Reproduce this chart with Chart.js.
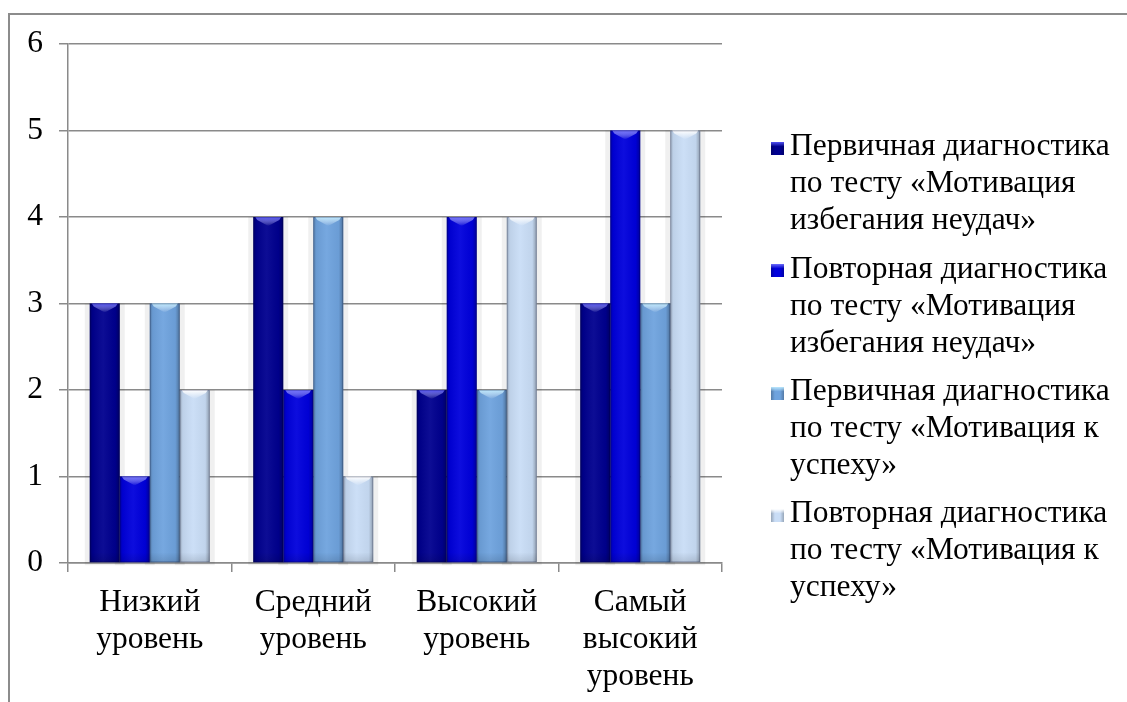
<!DOCTYPE html>
<html>
<head>
<meta charset="utf-8">
<script src="https://cdn.jsdelivr.net/npm/chart.js@4.4.0/dist/chart.umd.min.js"></script>
<style>
  html, body { margin: 0; padding: 0; background: #fff; overflow: hidden; }
  #wrap { position: relative; width: 1127px; height: 702px; }
  #frame { position: absolute; left: 8px; top: 13px; width: 1200px; height: 800px;
           border-left: 2px solid #8c8c8c; border-top: 2px solid #8c8c8c; box-sizing: border-box; }
  canvas { position: absolute; left: 0; top: 0; }
  #legend { position: absolute; left: 758px; top: 126.3px; font-family: "Liberation Serif", "Times New Roman", serif;
            font-size: 31.5px; line-height: 37px; color: #000; }
  .item { position: relative; padding-left: 32px; margin-bottom: 11.3px; white-space: nowrap; }
  .mark { position: absolute; left: 13px; top: 15.7px; width: 13px; height: 13px; box-sizing: border-box; }
</style>
</head>
<body>
<div id="wrap">
  <div id="frame"></div>
  <canvas id="c" width="1127" height="702"></canvas>
  <div id="legend"></div>
</div>
<script>
const categories = [
  ['Низкий', 'уровень'],
  ['Средний', 'уровень'],
  ['Высокий', 'уровень'],
  ['Самый', 'высокий', 'уровень']
];
const seriesNames = [
  ['Первичная диагностика', 'по тесту «Мотивация', 'избегания неудач»'],
  ['Повторная диагностика', 'по тесту «Мотивация', 'избегания неудач»'],
  ['Первичная диагностика', 'по тесту «Мотивация к', 'успеху»'],
  ['Повторная диагностика', 'по тесту «Мотивация к', 'успеху»']
];
const primaryFailure = [3, 4, 2, 3];
const repeatFailure  = [1, 2, 4, 5];
const primarySuccess = [3, 4, 2, 3];
const repeatSuccess  = [2, 1, 4, 5];
const yTicks = [0, 1, 2, 3, 4, 5, 6];

const colors = ['#00008f', '#0000dc', '#6fa3de', '#c9ddf6'];
const topGlow = ['rgba(90,90,255,0.9)', 'rgba(120,120,255,0.9)', 'rgba(190,235,255,0.95)', 'rgba(255,255,255,1)'];
const values = [primaryFailure, repeatFailure, primarySuccess, repeatSuccess];
const FONT = '"Liberation Serif", "Times New Roman", serif';

const shading = {
  id: 'shading',
  beforeDatasetsDraw(chart) {
    const ctx = chart.ctx;
    ctx.save();
    chart.data.datasets.forEach((ds, i) => {
      chart.getDatasetMeta(i).data.forEach(bar => {
        const w = bar.width;
        ctx.fillStyle = 'rgba(0,0,0,0.06)';
        ctx.fillRect(bar.x - w / 2 - 5, bar.y, w + 10, bar.base - bar.y + 3);
      });
    });
    ctx.restore();
  },
  afterDatasetsDraw(chart) {
    const ctx = chart.ctx;
    ctx.save();
    chart.data.datasets.forEach((ds, i) => {
      chart.getDatasetMeta(i).data.forEach(bar => {
        const w = bar.width, l = bar.x - w / 2, t = bar.y, h = bar.base - bar.y;
        const g = ctx.createLinearGradient(l, 0, l + w, 0);
        g.addColorStop(0, 'rgba(0,0,0,0.25)');
        g.addColorStop(0.1, 'rgba(0,0,0,0.06)');
        g.addColorStop(0.45, 'rgba(255,255,255,0.05)');
        g.addColorStop(0.85, 'rgba(0,0,0,0.04)');
        g.addColorStop(1, 'rgba(0,0,0,0.3)');
        ctx.fillStyle = g;
        ctx.fillRect(l, t, w, h);
        const gt = ctx.createLinearGradient(0, t, 0, t + 9);
        gt.addColorStop(0, topGlow[i]);
        gt.addColorStop(1, 'rgba(255,255,255,0)');
        ctx.beginPath();
        ctx.moveTo(l + 2, t);
        ctx.lineTo(l + w - 2, t);
        ctx.lineTo(l + w - 4, t + 3);
        ctx.lineTo(l + w / 2, t + 9);
        ctx.lineTo(l + 4, t + 3);
        ctx.closePath();
        ctx.fillStyle = gt;
        ctx.fill();
        const gb = ctx.createLinearGradient(0, bar.base - 10, 0, bar.base);
        gb.addColorStop(0, 'rgba(0,0,0,0)');
        gb.addColorStop(1, 'rgba(0,0,0,0.12)');
        ctx.fillStyle = gb;
        ctx.fillRect(l, bar.base - 10, w, 10);
        ctx.strokeStyle = 'rgba(0,0,40,0.22)';
        ctx.lineWidth = 1;
        ctx.strokeRect(l + 0.5, t + 0.5, w - 1, h - 1);
      });
    });
    ctx.restore();
  }
};

new Chart(document.getElementById('c'), {
  type: 'bar',
  data: {
    labels: categories,
    datasets: values.map((v, i) => ({
      label: seriesNames[i].join(' '),
      data: v,
      backgroundColor: colors[i],
      borderWidth: 0,
      barPercentage: 1,
      categoryPercentage: 0.734
    }))
  },
  options: {
    responsive: false,
    animation: false,
    layout: { padding: { left: 0, top: 44, right: 405, bottom: 0 } },
    plugins: { legend: { display: false }, tooltip: { enabled: false } },
    scales: {
      x: {
        afterFit(s) { s.height = 139; },
        grid: { drawOnChartArea: false, drawTicks: true, tickLength: 9, color: '#8a8a8a', lineWidth: 1.5 },
        border: { display: true, color: '#8a8a8a', width: 1.5 },
        ticks: { color: '#000', padding: 12, maxRotation: 0, autoSkip: false,
                 font: { family: FONT, size: 31.5, lineHeight: 1.175 } }
      },
      y: {
        min: 0, max: 6,
        afterFit(s) { s.width = 68; },
        afterBuildTicks(s) { s.ticks = yTicks.map(v => ({ value: v })); },
        grid: { color: '#8a8a8a', lineWidth: 1.5, tickLength: 9 },
        border: { display: true, color: '#8a8a8a', width: 1.5 },
        ticks: { color: '#000', padding: 16, font: { family: FONT, size: 31.5 } }
      }
    }
  },
  plugins: [shading]
});

const leg = document.getElementById('legend');
seriesNames.forEach((lines, i) => {
  const d = document.createElement('div');
  d.className = 'item';
  const m = document.createElement('div');
  m.className = 'mark';
  m.style.backgroundColor = colors[i];
  m.style.backgroundImage = 'linear-gradient(to bottom, ' + topGlow[i] + ', rgba(255,255,255,0) 35%), linear-gradient(to right, rgba(0,0,0,0.25), rgba(0,0,0,0) 30%, rgba(0,0,0,0) 70%, rgba(0,0,0,0.25))';
  d.appendChild(m);
  lines.forEach((t, k) => {
    if (k) d.appendChild(document.createElement('br'));
    d.appendChild(document.createTextNode(t));
  });
  leg.appendChild(d);
});
</script>
</body>
</html>
